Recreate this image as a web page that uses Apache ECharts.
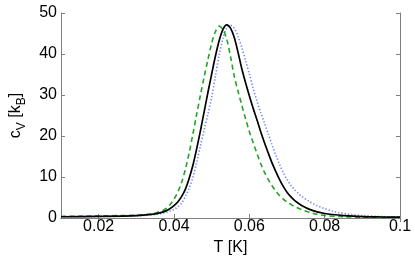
<!DOCTYPE html>
<html><head><meta charset="utf-8">
<script src="https://cdn.jsdelivr.net/npm/echarts@6/dist/echarts.min.js"></script>
<style>html,body{margin:0;padding:0;background:#fff}#c{width:415px;height:261px}</style>
</head><body><div id="c"></div>
<script>
var xTicks = [0.02, 0.04, 0.06, 0.08, 0.1];
var yTicks = [0, 10, 20, 30, 40, 50];

var blackT = [0.010,0.020,0.030,0.034,0.036,0.038,0.039,0.040,0.041,0.042,0.043,0.044,0.045,0.046,0.047,0.048,0.049,0.050,0.051,0.052,0.053,0.054,0.055,0.056,0.057,0.058,0.059,0.060,0.061,0.062,0.063,0.064,0.065,0.066,0.067,0.068,0.069,0.070,0.071,0.072,0.073,0.074,0.076,0.078,0.080,0.082,0.085,0.090,0.095,0.100];
var blackV = [0.3,0.4,0.6,0.9,1.2,1.8,2.3,3.0,3.9,5.2,7.0,9.6,12.8,16.8,21.2,25.9,30.6,35.1,39.5,43.3,46.0,47.1,46.3,44.0,40.4,36.4,33.0,29.8,26.8,24.0,21.1,18.4,15.9,13.5,11.4,9.4,7.7,6.3,5.2,4.3,3.6,3.0,2.1,1.5,1.1,0.85,0.6,0.35,0.25,0.2];

var greenT = [0.010,0.020,0.030,0.034,0.036,0.037,0.038,0.039,0.040,0.041,0.042,0.043,0.044,0.045,0.046,0.047,0.048,0.049,0.050,0.051,0.052,0.053,0.054,0.055,0.056,0.057,0.058,0.059,0.060,0.061,0.062,0.063,0.064,0.065,0.066,0.067,0.068,0.069,0.070,0.072,0.074,0.076,0.078,0.080,0.085,0.090,0.100];
var greenV = [0.4,0.5,0.7,1.0,1.5,1.8,2.4,3.3,4.6,6.3,8.6,11.8,15.8,20.4,25.2,29.9,34.4,38.6,42.6,45.5,46.8,46.0,43.6,39.4,34.6,30.9,27.5,24.2,21.1,18.4,15.8,13.3,11.2,9.4,7.9,6.6,5.5,4.6,3.9,2.8,2.0,1.4,0.9,0.6,0.3,0.2,0.15];

var blueT = [0.010,0.020,0.030,0.036,0.038,0.039,0.040,0.041,0.042,0.043,0.044,0.045,0.046,0.047,0.048,0.049,0.050,0.051,0.052,0.053,0.054,0.055,0.056,0.057,0.058,0.059,0.060,0.061,0.062,0.063,0.064,0.065,0.066,0.067,0.068,0.069,0.070,0.071,0.072,0.073,0.074,0.076,0.078,0.080,0.082,0.084,0.087,0.090,0.095,0.100];
var blueV = [0.3,0.4,0.5,1.0,1.4,1.7,2.1,2.7,3.6,5.2,7.2,9.9,13.5,17.5,21.5,25.3,29.5,34.6,39.8,43.8,46.3,47.0,46.3,44.2,41.6,38.4,35.1,31.6,28.6,25.8,23.2,20.6,17.9,15.4,13.1,11.1,9.4,8.0,6.9,6.0,5.2,4.0,3.0,2.3,1.7,1.25,0.85,0.6,0.35,0.2];

function pairs(t, v) { return t.map(function (x, i) { return [x, v[i]]; }); }

var axisGray = '#7f7f7f';
var font = 'Liberation Sans, Arial, sans-serif';
var chart = echarts.init(document.getElementById('c'), null, {renderer: 'canvas'});
chart.setOption({
  animation: false,
  backgroundColor: '#fff',
  grid: {left: 54, right: 15, top: 13, bottom: 40},
  xAxis: [{
    type: 'value', min: 0.01, max: 0.1, interval: 0.01,
    name: 'T [K]', nameLocation: 'middle', nameGap: 22,
    nameTextStyle: {fontFamily: font, fontSize: 16, color: '#000'},
    axisLine: {show: true, onZero: false, lineStyle: {color: axisGray, width: 1}},
    axisTick: {show: true, inside: true, length: 4, lineStyle: {color: axisGray},
      customValues: xTicks},
    axisLabel: {fontFamily: font, fontSize: 16, color: '#000', margin: 1,
      customValues: xTicks,
      formatter: function (v) { return +v.toFixed(2) + ''; }},
    splitLine: {show: false}
  }, {
    type: 'value', min: 0.01, max: 0.1, interval: 0.01, position: 'top',
    axisLine: {show: true, lineStyle: {color: axisGray, width: 1}},
    axisTick: {show: true, inside: true, length: 4, lineStyle: {color: axisGray}, customValues: xTicks},
    axisLabel: {show: false}, splitLine: {show: false}
  }],
  yAxis: [{
    type: 'value', min: 0, max: 50, interval: 10,
    name: '{a|c}{s|V}{a| [k}{s|B}{a|]}', nameLocation: 'middle', nameGap: 33, nameRotate: 90,
    nameTextStyle: {
      fontFamily: font, color: '#000',
      rich: {
        a: {fontFamily: font, fontSize: 16, color: '#000', lineHeight: 20, verticalAlign: 'top'},
        s: {fontFamily: font, fontSize: 12, color: '#000', lineHeight: 20, verticalAlign: 'bottom', padding: [8, 0, 0, 0]}
      }
    },
    axisLine: {show: true, lineStyle: {color: axisGray, width: 1}},
    axisTick: {show: true, inside: true, length: 4, lineStyle: {color: axisGray}},
    axisLabel: {fontFamily: font, fontSize: 16, color: '#000', margin: 4,
      customValues: yTicks},
    splitLine: {show: false}
  }, {
    type: 'value', min: 0, max: 50, interval: 10, position: 'right',
    axisLine: {show: true, lineStyle: {color: axisGray, width: 1}},
    axisTick: {show: true, inside: true, length: 4, lineStyle: {color: axisGray}},
    axisLabel: {show: false}, splitLine: {show: false}
  }],
  series: [{
    type: 'line', data: pairs(blueT, blueV), smooth: 0.3, showSymbol: false,
    lineStyle: {color: '#6f82ff', width: 1.6, type: [1.3, 2]}, z: 2
  }, {
    type: 'line', data: pairs(greenT, greenV), smooth: 0.3, showSymbol: false,
    lineStyle: {color: '#22a622', width: 1.6, type: [5, 3.5]}, z: 3
  }, {
    type: 'line', data: pairs(blackT, blackV), smooth: 0.3, showSymbol: false,
    lineStyle: {color: '#000', width: 1.7}, z: 4
  }]
});
</script>
</body></html>
